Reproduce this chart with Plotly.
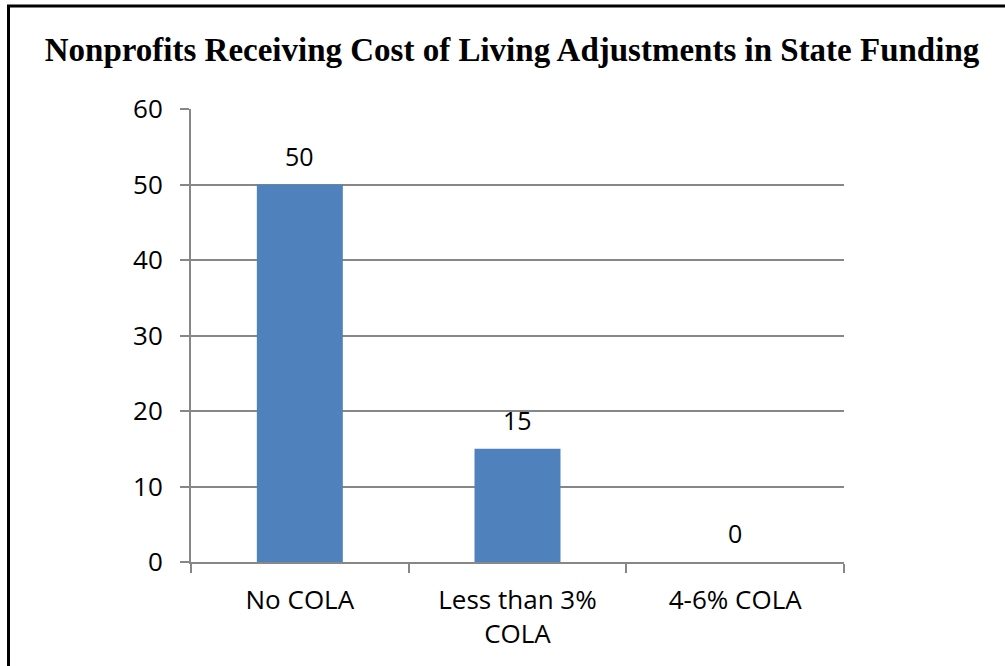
import plotly.graph_objects as go

categories = ["No COLA", "Less than 3%<br>COLA", "4-6% COLA"]
values = [50, 15, 0]
y_ticks = [0, 10, 20, 30, 40, 50, 60]
title = "Nonprofits Receiving Cost of Living Adjustments in State Funding"

W, H = 1005, 666
L, R, T, B = 191, 161, 109, 104
pw, ph = W - L - R, H - T - B

grid = "#878787"
font_sans = "Open Sans"

fig = go.Figure()
fig.add_trace(go.Bar(
    x=categories, y=values,
    marker=dict(color="#4F81BD", line=dict(width=0)),
    width=0.395,
    hoverinfo="skip",
))

for c, v in zip(categories, values):
    fig.add_annotation(x=c, y=v, text=str(v), showarrow=False,
                       yshift=29, font=dict(family=font_sans, size=25, color="black"))

# border (left and top lines)
def px_x(p):
    return (p - L) / pw

def px_y(p):
    return (H - B - p) / ph

fig.add_shape(type="line", xref="paper", yref="paper",
              x0=px_x(8.5), x1=px_x(8.5), y0=px_y(5), y1=px_y(700),
              line=dict(color="black", width=3))
fig.add_shape(type="line", xref="paper", yref="paper",
              x0=px_x(7), x1=px_x(1020), y0=px_y(6), y1=px_y(6),
              line=dict(color="black", width=3))

fig.update_layout(
    width=W, height=H,
    margin=dict(l=L, r=R, t=T, b=B),
    paper_bgcolor="white", plot_bgcolor="white",
    showlegend=False,
    title=dict(text=title, x=512 / W, xanchor="center", xref="container",
               y=1 - 49 / H, yanchor="middle", yref="container",
               font=dict(family="Liberation Serif", size=33, color="black", weight="bold")),
    xaxis=dict(
        showline=True, linecolor=grid, linewidth=2,
        ticks="outside", tickson="boundaries", ticklen=9, tickcolor=grid, tickwidth=2,
        showgrid=False, tickfont=dict(family=font_sans, size=26, color="black"),
        ticklabelstandoff=14, fixedrange=True,
    ),
    yaxis=dict(
        range=[0, 60], tickvals=y_ticks,
        showline=True, linecolor=grid, linewidth=2,
        ticks="outside", ticklen=9, tickcolor=grid, tickwidth=2,
        showgrid=True, gridcolor=grid, gridwidth=2, zeroline=False,
        tickfont=dict(family=font_sans, size=26, color="black"),
        ticklabelstandoff=12, fixedrange=True,
    ),
)

fig.write_html("out.html", config={"displayModeBar": False},
               post_script="document.body.style.margin='0';document.body.style.overflow='hidden';")
